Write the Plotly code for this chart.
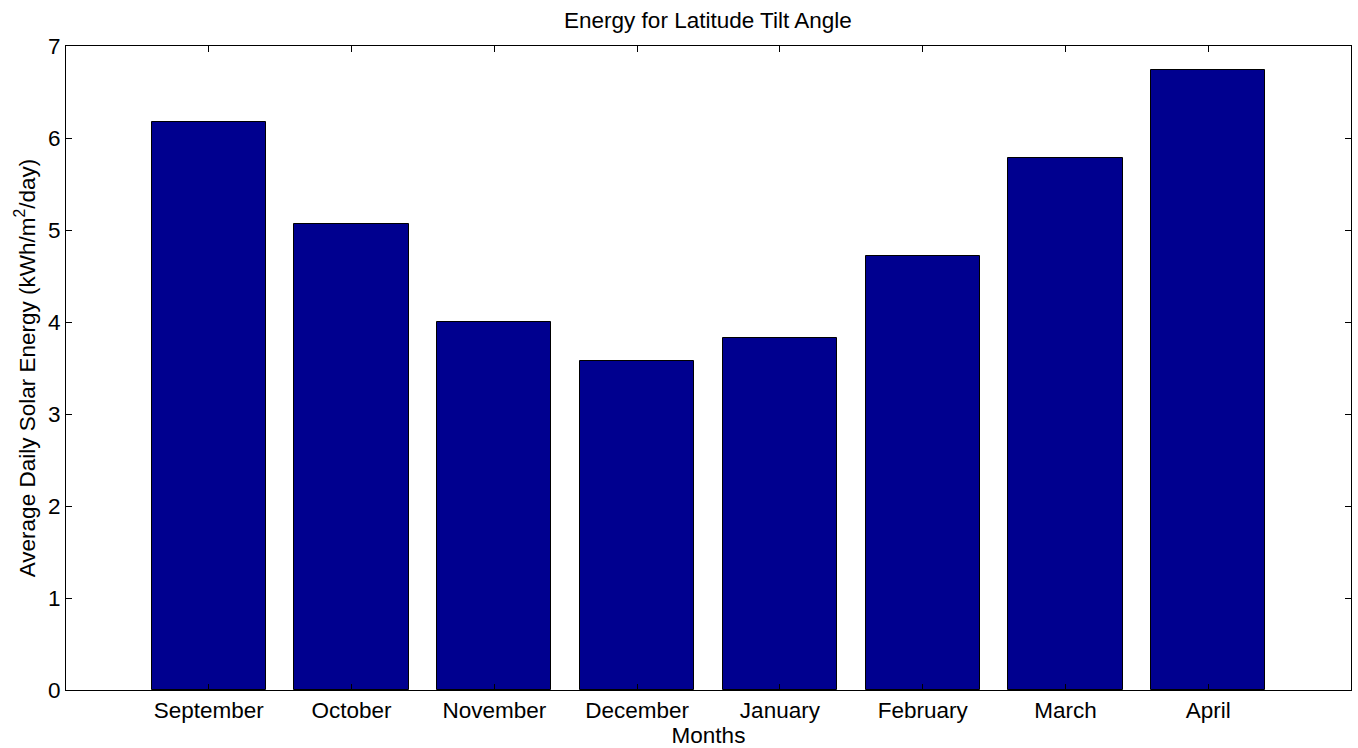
import plotly.graph_objects as go

months = ["September", "October", "November", "December", "January", "February", "March", "April"]
positions = [1, 2, 3, 4, 5, 6, 7, 8]
energy = [6.17, 5.06, 4.00, 3.58, 3.83, 4.72, 5.78, 6.74]
yticks = [0, 1, 2, 3, 4, 5, 6, 7]

fig = go.Figure()
fig.add_trace(go.Bar(
    x=positions, y=energy, width=0.8,
    marker=dict(color="rgb(0,0,143)", line=dict(color="black", width=1)),
    showlegend=False,
))

font = "Liberation Sans, Arial, Helvetica, sans-serif"
fs = 22.5
fig.update_layout(
    width=1358, height=748,
    margin=dict(l=66, r=7, t=46, b=58),
    plot_bgcolor="white", paper_bgcolor="white",
    font=dict(family=font, color="black", size=fs),
    title=dict(text="Energy for Latitude Tilt Angle", x=0.5213, xanchor="center",
               y=0.973, yanchor="middle", font=dict(size=fs, family=font, color="black")),
    bargap=0,
)
fig.update_xaxes(
    range=[0, 9], tickvals=positions, ticktext=months,
    showline=True, linecolor="black", linewidth=1, mirror="ticks",
    ticks="inside", ticklen=6, tickcolor="black", showgrid=False, zeroline=False,
    tickfont=dict(size=fs),
    title=dict(text="Months", standoff=0, font=dict(size=fs)),
)
fig.update_yaxes(
    range=[0, 7], tickvals=yticks,
    showline=True, linecolor="black", linewidth=1, mirror="ticks",
    ticks="inside", ticklen=6, tickcolor="black", showgrid=False, zeroline=False,
    tickfont=dict(size=fs),
    title=dict(text="Average Daily Solar Energy (kWh/m<sup>2</sup>/day)", standoff=6, font=dict(size=fs)),
)
fig.write_html("out.html", config={"displayModeBar": False},
               post_script="document.body.style.margin='0';document.body.style.overflow='hidden';")
